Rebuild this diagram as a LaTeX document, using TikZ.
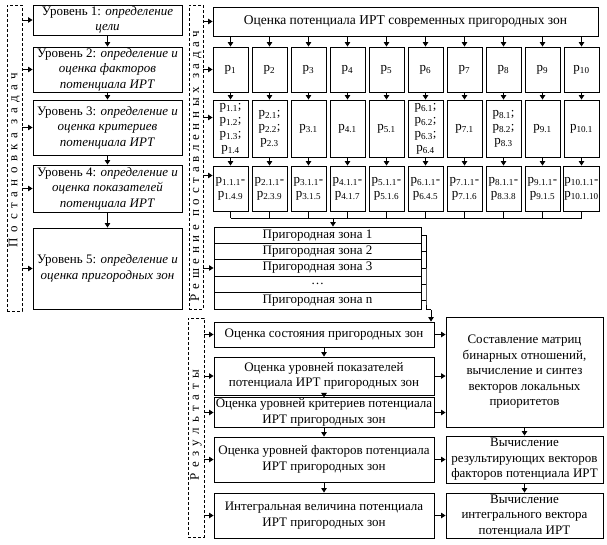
\documentclass[tikz,border=0pt]{standalone}
\usepackage{fontspec}
\setmainfont{Liberation Serif}
\usetikzlibrary{arrows.meta}
\newcommand\pp[1]{p\textsubscript{#1}}
\newcommand\spaced[2][42]{{\addfontfeature{LetterSpace=#1}#2}}

\begin{document}
\begin{tikzpicture}[x=1pt,y=-1pt,
	box/.style={draw, line width=0.9pt, inner sep=1pt, align=center, font=\fontsize{13}{15.5}\selectfont},
	pbox/.style={box, minimum width=35pt, font=\fontsize{13}{14}\selectfont},
	zrow/.style={draw, line width=0.9pt, inner sep=0pt, minimum width=207pt, minimum height=16.4pt, font=\fontsize{13}{14}\selectfont},
	col/.style={draw, densely dashed, line width=0.6pt, inner sep=0pt},
	coltext/.style={rotate=90, inner sep=0pt, font=\fontsize{13}{14}\selectfont},
	arr/.style={line width=0.9pt, -{Triangle[length=4.5pt,width=5.5pt]}},
	ln/.style={line width=0.9pt}]
			%%%%% START %%%%%
			\useasboundingbox (0,0) rectangle (607,545);
			
			% dashed columns
			\node[col, minimum width=15pt, minimum height=306pt] (c1) at (14.5,158) {};
			\node[coltext] (c1t) at (14.5,160) {\spaced{Постановка задач}};
			\node[col, minimum width=14pt, minimum height=304pt] (c2) at (196,157) {};
			\node[coltext] (c2t) at (196,166) {\spaced[36]{Решение поставленных задач}};
			\node[col, minimum width=16pt, minimum height=219pt] (c3) at (196,427.5) {};
			\node[coltext] (c3t) at (196,425) {\spaced{Результаты}};
			
			% levels
			\node[box, minimum width=149pt, minimum height=30pt] (L1) at (107.5,20) {Уровень 1: \textit{определение}\\\textit{цели}};
			\node[box, minimum width=149pt, minimum height=45pt] (L2) at (107.5,69.5) {Уровень 2: \textit{определение и}\\\textit{оценка факторов}\\\textit{потенциала ИРТ}};
			\node[box, minimum width=149pt, minimum height=55pt] (L3) at (107.5,127.5) {Уровень 3: \textit{определение и}\\\textit{оценка критериев}\\\textit{потенциала ИРТ}};
			\node[box, minimum width=149pt, minimum height=47pt] (L4) at (107.5,188.5) {Уровень 4: \textit{определение и}\\\textit{оценка показателей}\\\textit{потенциала ИРТ}};
			\node[box, minimum width=149pt, minimum height=81pt] (L5) at (107.5,268.5) {Уровень 5: \textit{определение и}\\\textit{оценка пригородных зон}};
			
			\draw[arr] (L1) -- (L2);
			\draw[arr] (L2) -- (L3);
			\draw[arr] (L3) -- (L4);
			\draw[arr] (L4) -- (L5);
			\foreach \n in {L1,L2,L3,L4,L5}
				\draw[arr] (c1.east |- \n.west) -- (\n.west);
			
			% solution
			\node[box, minimum width=385pt, minimum height=29pt, font=\fontsize{13.5}{15}\selectfont] (T) at (405.5,21.5) {Оценка потенциала ИРТ современных пригородных зон};
			
			\foreach \i in {1,...,10}
				\node[pbox, minimum height=45pt] (p\i) at ({230.5+39*(\i-1)},69.5) {\pp{\i}};
			
			\node[pbox, minimum height=57pt] (q1) at (230.5,128.5) {\pp{1.1};\\\pp{1.2};\\\pp{1.3};\\\pp{1.4}};
			\node[pbox, minimum height=57pt] (q2) at (269.5,128.5) {\pp{2.1};\\\pp{2.2};\\\pp{2.3}};
			\node[pbox, minimum height=57pt] (q3) at (308.5,128.5) {\pp{3.1}};
			\node[pbox, minimum height=57pt] (q4) at (347.5,128.5) {\pp{4.1}};
			\node[pbox, minimum height=57pt] (q5) at (386.5,128.5) {\pp{5.1}};
			\node[pbox, minimum height=57pt] (q6) at (425.5,128.5) {\pp{6.1};\\\pp{6.2};\\\pp{6.3};\\\pp{6.4}};
			\node[pbox, minimum height=57pt] (q7) at (464.5,128.5) {\pp{7.1}};
			\node[pbox, minimum height=57pt] (q8) at (503.5,128.5) {\pp{8.1};\\\pp{8.2};\\\pp{8.3}};
			\node[pbox, minimum height=57pt] (q9) at (542.5,128.5) {\pp{9.1}};
			\node[pbox, minimum height=57pt] (q10) at (581.5,128.5) {\pp{10.1}};
			
			\node[pbox, minimum height=45pt] (r1) at (230.5,188.5) {\pp{1.1.1}-\\\pp{1.4.9}};
			\node[pbox, minimum height=45pt] (r2) at (269.5,188.5) {\pp{2.1.1}-\\\pp{2.3.9}};
			\node[pbox, minimum height=45pt] (r3) at (308.5,188.5) {\pp{3.1.1}-\\\pp{3.1.5}};
			\node[pbox, minimum height=45pt] (r4) at (347.5,188.5) {\pp{4.1.1}-\\\pp{4.1.7}};
			\node[pbox, minimum height=45pt] (r5) at (386.5,188.5) {\pp{5.1.1}-\\\pp{5.1.6}};
			\node[pbox, minimum height=45pt] (r6) at (425.5,188.5) {\pp{6.1.1}-\\\pp{6.4.5}};
			\node[pbox, minimum height=45pt] (r7) at (464.5,188.5) {\pp{7.1.1}-\\\pp{7.1.6}};
			\node[pbox, minimum height=45pt] (r8) at (503.5,188.5) {\pp{8.1.1}-\\\pp{8.3.8}};
			\node[pbox, minimum height=45pt] (r9) at (542.5,188.5) {\pp{9.1.1}-\\\pp{9.1.5}};
			\node[pbox, minimum height=45pt] (r10) at (581.5,188.5) {\pp{10.1.1}-\\\pp{10.1.10}};
			
			\foreach \i in {1,...,10} {
				\draw[arr] (p\i.north |- T.south) -- (p\i.north);
				\draw[arr] (p\i) -- (q\i);
				\draw[arr] (q\i) -- (r\i);
				\draw[ln] (r\i.south) -- ++(0,7);
			}
			\draw[ln] ([yshift=-7pt]r1.south) -- ([yshift=-7pt]r10.south);
			
			% zones
			\node[zrow] (z1) at (317.5,235.2) {Пригородная зона 1};
			\node[zrow] (z2) at (317.5,251.6) {Пригородная зона 2};
			\node[zrow] (z3) at (317.5,268.0) {Пригородная зона 3};
			\node[zrow] (z4) at (317.5,284.4) {…};
			\node[zrow] (z5) at (317.5,300.8) {Пригородная зона n};
			
			\coordinate (zin) at (333,218);
			\draw[arr] (zin) -- (zin |- z1.north);
			\coordinate (zb) at (426,0);
			\foreach \k in {1,...,5}
				\draw[ln] (z\k.east) -- (z\k.east -| zb);
			\draw[ln] (z1.east -| zb) -- (z5.east -| zb) -- ++(0,9) -- ++(5,0) coordinate (zo);
			
			\draw[arr] (c2.east |- T.west) -- (T.west);
			\draw[arr] (c2.east |- p1.west) -- (p1.west);
			\draw[arr] ([yshift=11pt]c2.east |- q1.west) -- ([yshift=11pt]q1.west);
			\draw[arr] ([yshift=13pt]c2.east |- r1.west) -- ([yshift=13pt]r1.west);
			\draw[arr] (c2.east |- z3.west) -- (z3.west);
			
			% results
			\node[box, minimum width=220pt, minimum height=25pt] (R1) at (324,334.5) {Оценка состояния пригородных зон};
			\node[box, minimum width=220pt, minimum height=38pt] (R2) at (324,376) {Оценка уровней показателей\\потенциала ИРТ пригородных зон};
			\node[box, minimum width=220pt, minimum height=29pt] (R3) at (324,412.5) {Оценка уровней критериев потенциала\\ИРТ пригородных зон};
			\node[box, minimum width=220pt, minimum height=45pt] (R4) at (324,459.5) {Оценка уровней факторов потенциала\\ИРТ пригородных зон};
			\node[box, minimum width=220pt, minimum height=45pt] (R5) at (324,515.5) {Интегральная величина потенциала\\ИРТ пригородных зон};
			
			\node[box, minimum width=157pt, minimum height=110pt] (B1) at (524.5,372) {Составление матриц\\бинарных отношений,\\вычисление и синтез\\векторов локальных\\приоритетов};
			\node[box, minimum width=157pt, minimum height=47pt] (B2) at (524.5,459.5) {Вычисление\\результирующих векторов\\факторов потенциала ИРТ};
			\node[box, minimum width=157pt, minimum height=45pt] (B3) at (524.5,515.5) {Вычисление\\интегрального вектора\\потенциала ИРТ};
			
			\draw[arr] (zo) -- (zo |- R1.north);
			\draw[arr] (R1) -- (R2);
			\draw[arr] (R2) -- (R3);
			\draw[arr] (R3) -- (R4);
			\draw[arr] (R4) -- (R5);
			\foreach \n in {R1,R2,R3,R4,R5}
				\draw[arr] (c3.east |- \n.west) -- (\n.west);
			\foreach \n in {R1,R2,R3}
				\draw[arr] (\n.east) -- (\n.east -| B1.west);
			\draw[arr] (R4) -- (B2);
			\draw[arr] (R5) -- (B3);
			\draw[arr] (B1) -- (B2);
			\draw[arr] (B2) -- (B3);
			
			%%%%% END %%%%%
\end{tikzpicture}
\end{document}
